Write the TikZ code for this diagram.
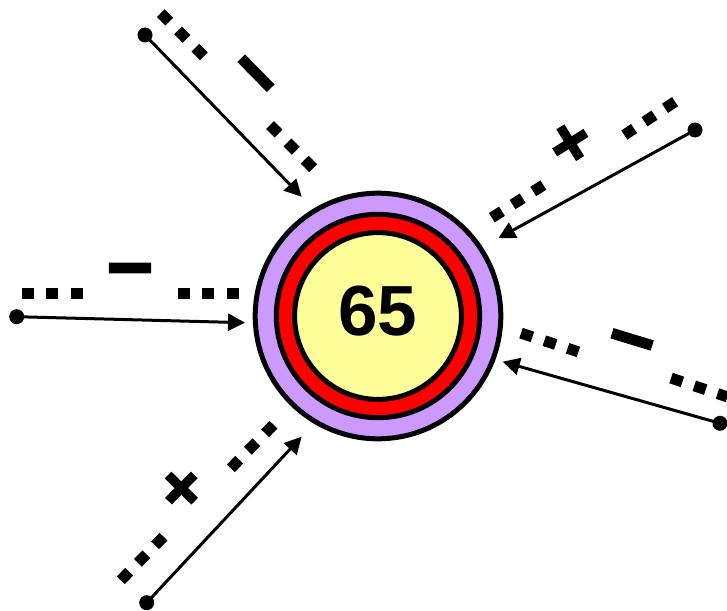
\documentclass[tikz,border=0pt]{standalone}
\usepackage{fontspec}
\setmainfont{Liberation Sans}
\newfontfamily\signfont{Liberation Sans Bold}[FakeBold=2.5]
\usetikzlibrary{arrows.meta,calc}
\definecolor{lav}{HTML}{CC99FF}
\definecolor{yel}{HTML}{FFFF99}
\newcommand\sqrow[2]{\draw[dotsq] ($(#1)!-6pt!(#2)$) -- ($(#2)!-6pt!(#1)$);}
\begin{document}
\begin{tikzpicture}[x=1pt,y=-1pt,
  arr/.style={line width=3pt,-{Triangle[length=17pt,width=17pt]}},
  dotsq/.style={line width=11pt,dash pattern=on 12pt off 12.5pt},
  sgn/.style={font=\signfont\fontsize{80}{80}\selectfont,inner sep=0pt},
  pls/.style={font=\signfont\fontsize{70}{70}\selectfont,inner sep=0pt},
  dotpt/.style={circle,fill,inner sep=0pt,minimum size=15pt},
  ring/.style={circle,draw,line width=5pt,inner sep=0pt}]
\useasboundingbox (0,0) rectangle (727,610);
% rings
\node[ring,fill=lav,minimum size=245.6pt] (c) at (378,316) {};
\node[ring,fill=red,minimum size=203.4pt] (cr) at (378,316) {};
\node[ring,fill=yel,minimum size=166.8pt] (cy) at (378,316) {};
\node[font=\bfseries\fontsize{71}{71}\selectfont,inner sep=0pt] (num) at (378,311.5) {65};
% dotted rows
\coordinate (a1) at (165,17.3);   \coordinate (a2) at (200,52.3);
\coordinate (a3) at (274.3,129.3); \coordinate (a4) at (310,165);
\coordinate (b1) at (670,105);    \coordinate (b2) at (629.3,131.7);
\coordinate (b3) at (538.3,188.3); \coordinate (b4) at (496,215);
\coordinate (l1) at (27.5,293.8); \coordinate (l2) at (76.5,293.8);
\coordinate (l3) at (183.5,293.8); \coordinate (l4) at (233.2,293.8);
\coordinate (r1) at (526.7,335);  \coordinate (r2) at (572.7,350);
\coordinate (r3) at (676.7,380);  \coordinate (r4) at (721.7,395);
\coordinate (e1) at (125,576);    \coordinate (e2) at (159.3,541);
\coordinate (e3) at (235,464);    \coordinate (e4) at (269.3,429);
\sqrow{a1}{a2}\sqrow{a3}{a4}
\sqrow{b1}{b2}\sqrow{b3}{b4}
\sqrow{l1}{l2}\sqrow{l3}{l4}
\sqrow{r1}{r2}\sqrow{r3}{r4}
\sqrow{e1}{e2}\sqrow{e3}{e4}
% signs
\node[sgn,rotate=-45.5] (s1) at (248,81) {−};
\node[pls,rotate=32] (s2) at (571.7,145) {+};
\node[sgn] (s3) at (130,279) {−};
\node[sgn,rotate=-17] (s4) at (628.8,350) {−};
\node[pls,rotate=45.5] (s5) at (183.3,490) {+};
% arrows
\node[dotpt] (d1) at (145,35) {};
\node[dotpt] (d2) at (695,130) {};
\node[dotpt] (d3) at (16.7,316.7) {};
\node[dotpt] (d4) at (720,423.3) {};
\node[dotpt] (d5) at (146.7,602.7) {};
\coordinate (t1) at (301.7,196.7);
\coordinate (t2) at (498.3,238.3);
\coordinate (t3) at (245,322.7);
\coordinate (t4) at (502.7,361.7);
\coordinate (t5) at (301.7,436.7);
\draw[arr] (d1.center) -- (t1);
\draw[arr] (d2.center) -- (t2);
\draw[arr] (d3.center) -- (t3);
\draw[arr] (d4.center) -- (t4);
\draw[arr] (d5.center) -- (t5);
\end{tikzpicture}
\end{document}
